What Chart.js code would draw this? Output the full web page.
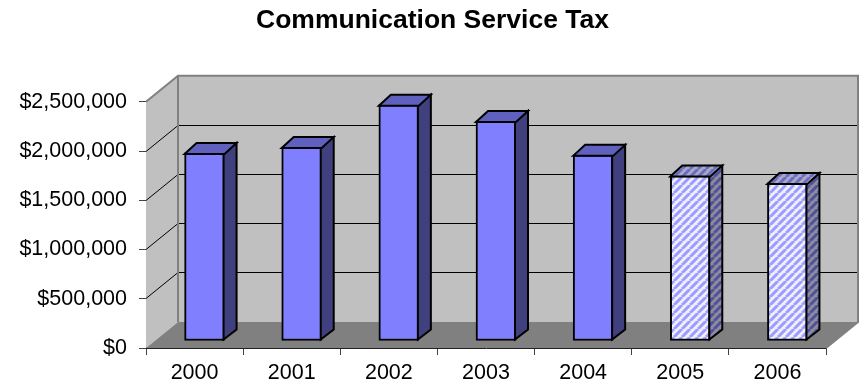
<!DOCTYPE html>
<html>
<head>
<meta charset="utf-8">
<title>Communication Service Tax</title>
<script src="https://cdn.jsdelivr.net/npm/chart.js@4/dist/chart.umd.min.js"></script>
<style>
    html, body { margin: 0; padding: 0; background: #fff; }
    #wrap { width: 865px; height: 383px; }
</style>
</head>
<body>
<div id="wrap"><canvas id="taxChart"></canvas></div>
<script>
const years = ["2000", "2001", "2002", "2003", "2004", "2005", "2006"];
const taxValues = [1910000, 1970000, 2400000, 2235000, 1890000, 1680000, 1605000];
const projected = [false, false, false, false, false, true, true];

// depth of the box (wall offset) and of the bars, in pixels
const WALL_DX = 32, WALL_DY = -26;
const BAR_SHIFT_X = 10, BAR_SHIFT_Y = -7;
const BAR_DX = 12, BAR_DY = -10;

function stripes(light, dark) {
    const size = 8;
    const tile = document.createElement("canvas");
    tile.width = size;
    tile.height = size;
    const c = tile.getContext("2d");
    c.fillStyle = light;
    c.fillRect(0, 0, size, size);
    c.strokeStyle = dark;
    c.lineWidth = 3;
    // three passes so the diagonal joins up across tile edges
    for (const off of [-size, 0, size]) {
        c.beginPath();
        c.moveTo(off, size);
        c.lineTo(off + size, 0);
        c.stroke();
    }
    return document.createElement("canvas").getContext("2d").createPattern(tile, "repeat");
}

const solid = { front: "#8080ff", side: "#40407f", top: "#6060bf" };
const hatched = {
    front: stripes("#eeeeff", "#9c9cff"),
    side: stripes("#8c8c9c", "#50509c"),
    top: stripes("#a8a8cc", "#6c6cbc")
};

function polygon(ctx, pts, fill, stroke, width) {
    ctx.beginPath();
    pts.forEach((p, i) => i ? ctx.lineTo(p[0], p[1]) : ctx.moveTo(p[0], p[1]));
    ctx.closePath();
    if (fill) {
        ctx.fillStyle = fill;
        ctx.fill();
    }
    if (stroke) {
        ctx.strokeStyle = stroke;
        ctx.lineWidth = width;
        ctx.lineJoin = "miter";
        ctx.stroke();
    }
}

// side wall, back wall, floor and the gridlines that run across them
const boxPlugin = {
    id: "box",
    // the title is centred on the whole canvas, not on the padded area
    afterLayout(chart) {
        chart.titleBlock.left = 0;
        chart.titleBlock.right = chart.width;
    },
    beforeDatasetsDraw(chart) {
        const { ctx, chartArea: a, scales } = chart;
        const l = a.left, r = a.right, t = a.top, b = a.bottom;
        const dx = WALL_DX, dy = WALL_DY;
        ctx.save();
        polygon(ctx, [[l, t], [l + dx, t + dy], [l + dx, b + dy], [l, b]], "#c0c0c0");
        polygon(ctx, [[l + dx, t + dy], [r + dx, t + dy], [r + dx, b + dy], [l + dx, b + dy]], "#c0c0c0");
        polygon(ctx, [[l, b], [r, b], [r + dx, b + dy], [l + dx, b + dy]], "#808080");

        ctx.strokeStyle = "#000";
        ctx.lineWidth = 1;
        scales.y.ticks.forEach(tick => {
            if (tick.value === 0 || tick.value === scales.y.max) return;
            // snap to the pixel grid so the long lines stay solid black
            const y = Math.floor(scales.y.getPixelForValue(tick.value)) + 0.5;
            ctx.beginPath();
            ctx.moveTo(l, y);
            ctx.lineTo(l + dx, y + dy);
            ctx.lineTo(r + dx, y + dy);
            ctx.stroke();
        });

        // grey outline of the walls
        ctx.strokeStyle = "#808080";
        ctx.lineWidth = 2;
        ctx.beginPath();
        ctx.moveTo(l, t);
        ctx.lineTo(l + dx, t + dy);
        ctx.lineTo(r + dx, t + dy);
        ctx.lineTo(r + dx, b + dy);
        ctx.lineTo(r, b);
        ctx.moveTo(l + dx, t + dy);
        ctx.lineTo(l + dx, b + dy);
        ctx.stroke();
        ctx.restore();
    },
    // bars stand in the middle of the floor, so shift them off the front plane
    beforeDatasetDraw(chart) {
        chart.ctx.save();
        chart.ctx.translate(BAR_SHIFT_X, BAR_SHIFT_Y);
    },
    afterDatasetDraw(chart, args) {
        const ctx = chart.ctx;
        args.meta.data.forEach((bar, i) => {
            const look = projected[i] ? hatched : solid;
            const x0 = bar.x - bar.width / 2, x1 = bar.x + bar.width / 2;
            const top = bar.y, base = bar.base;
            polygon(ctx, [[x1 - 1, top], [x1 + BAR_DX, top + BAR_DY], [x1 + BAR_DX, base + BAR_DY - 1], [x1 - 1, base - 1]], look.side, "#000", 2);
            polygon(ctx, [[x0, top + 1], [x0 + BAR_DX, top + BAR_DY], [x1 + BAR_DX, top + BAR_DY], [x1, top + 1]], look.top, "#000", 2);
        });
        ctx.restore();
    }
};

new Chart(document.getElementById("taxChart"), {
    type: "bar",
    data: {
        labels: years,
        datasets: [{
            data: taxValues,
            backgroundColor: projected.map(p => p ? hatched.front : solid.front),
            borderColor: "#000",
            borderWidth: 2,
            borderSkipped: false,
            barThickness: 40,
            clip: false
        }]
    },
    plugins: [boxPlugin],
    options: {
        responsive: true,
        maintainAspectRatio: false,
        animation: false,
        layout: { padding: { left: 0, right: 39, top: 0, bottom: 0 } },
        plugins: {
            legend: { display: false },
            tooltip: { enabled: false },
            title: {
                display: true,
                text: "Communication Service Tax",
                color: "#000",
                font: { family: "'Liberation Sans', Arial, sans-serif", size: 26.5, weight: "bold" },
                padding: { top: 5, bottom: 65 }
            }
        },
        scales: {
            x: {
                afterFit(scale) { scale.height = 35; },
                border: { color: "#222", width: 1 },
                grid: { drawOnChartArea: false, tickLength: 7, color: "#444" },
                ticks: {
                    color: "#000",
                    padding: 5,
                    maxRotation: 0,
                    font: { family: "'Liberation Sans', Arial, sans-serif", size: 21.5 }
                }
            },
            y: {
                min: 0,
                max: 2500000,
                afterFit(scale) { scale.width = 146; },
                border: { color: "#222", width: 1 },
                grid: { drawOnChartArea: false, tickLength: 7, color: "#444" },
                ticks: {
                    stepSize: 500000,
                    color: "#000",
                    padding: 12,
                    font: { family: "'Liberation Sans', Arial, sans-serif", size: 21.5 },
                    callback: v => "$" + v.toLocaleString("en-US")
                }
            }
        }
    }
});
</script>
</body>
</html>
